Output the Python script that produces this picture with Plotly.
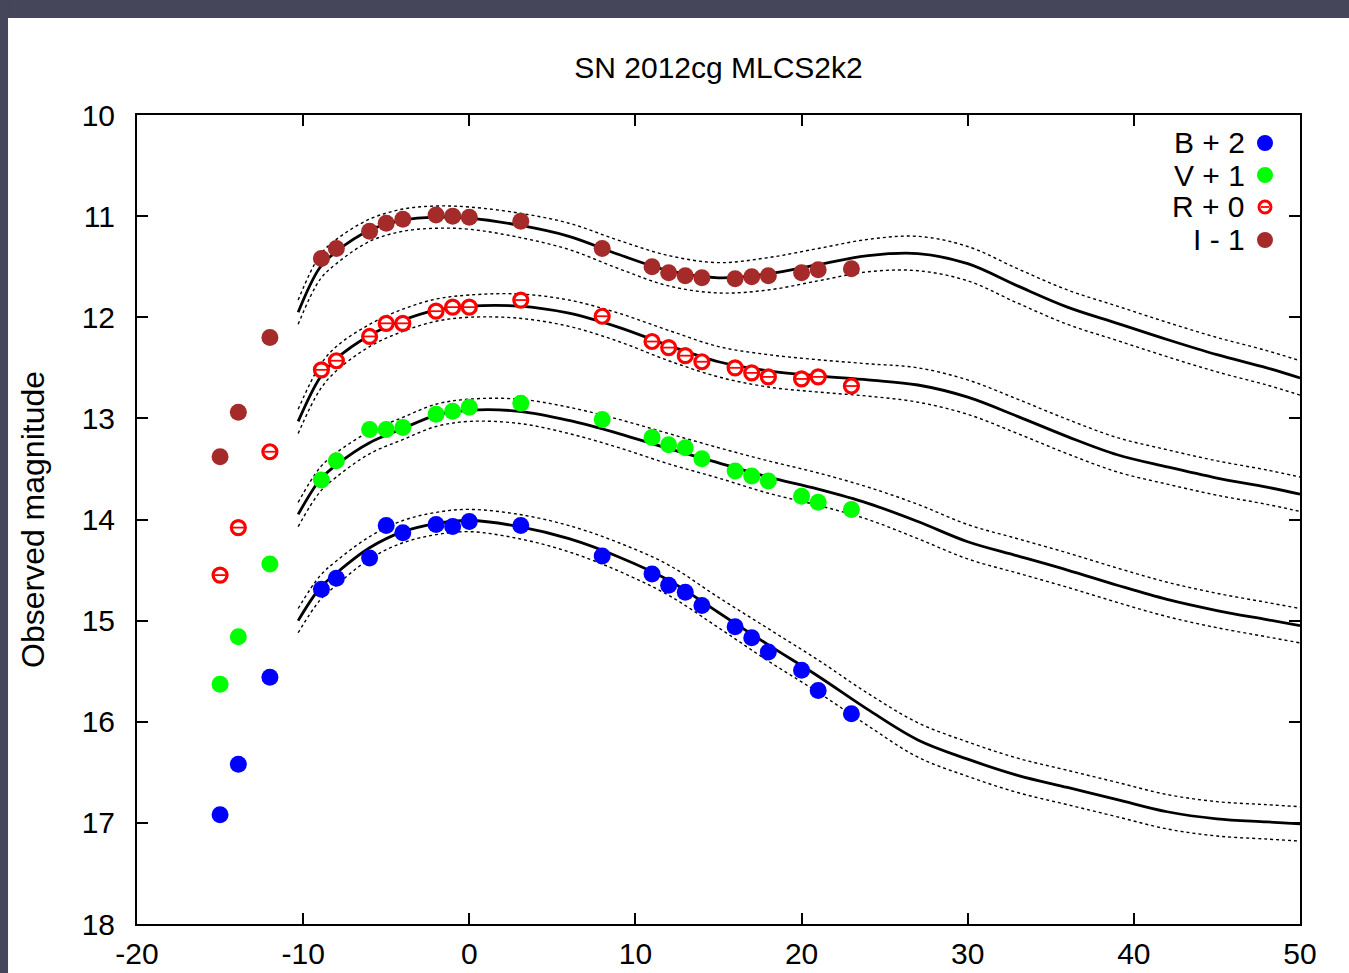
import plotly.graph_objects as go

# ---------------- data ----------------
phase = [-15, -13.9, -12, -8.9, -8, -6, -5, -4, -2, -1, 0, 3.1, 8, 11, 12, 13, 14, 16, 17, 18, 20, 21, 23]

mag_B = [16.92, 16.42, 15.56, 14.69, 14.58, 14.38, 14.06, 14.13, 14.05, 14.07, 14.02, 14.06, 14.36,
         14.54, 14.65, 14.72, 14.85, 15.06, 15.17, 15.31, 15.49, 15.69, 15.92]
mag_V = [15.63, 15.16, 14.44, 13.61, 13.42, 13.11, 13.11, 13.09, 12.96, 12.93, 12.89, 12.85, 13.01,
         13.19, 13.26, 13.29, 13.40, 13.52, 13.57, 13.62, 13.77, 13.83, 13.90]
mag_R = [14.55, 14.08, 13.33, 12.52, 12.43, 12.19, 12.06, 12.06, 11.94, 11.90, 11.90, 11.83, 11.99,
         12.24, 12.30, 12.38, 12.44, 12.50, 12.55, 12.59, 12.61, 12.59, 12.68]
mag_I = [13.38, 12.94, 12.20, 11.42, 11.32, 11.15, 11.07, 11.03, 10.99, 11.00, 11.01, 11.05, 11.32,
         11.50, 11.56, 11.59, 11.61, 11.62, 11.60, 11.59, 11.56, 11.53, 11.52]

model_phase = [-10.3, -9, -8, -6, -4, -2, 0, 3, 6, 9, 12, 15, 18, 21, 24, 27, 30, 33, 36, 39, 42, 45, 48, 50]
model_B = [15.00, 14.68, 14.53, 14.28, 14.12, 14.04, 14.01, 14.07, 14.19, 14.37, 14.60, 14.92, 15.24,
           15.55, 15.88, 16.18, 16.37, 16.53, 16.65, 16.77, 16.89, 16.96, 16.99, 17.01]
model_V = [13.95, 13.61, 13.46, 13.24, 13.10, 12.97, 12.92, 12.93, 13.02, 13.15, 13.30, 13.44, 13.58,
           13.70, 13.84, 14.02, 14.22, 14.36, 14.50, 14.65, 14.79, 14.90, 14.99, 15.05]
model_R = [13.03, 12.60, 12.41, 12.18, 12.03, 11.93, 11.89, 11.89, 11.96, 12.10, 12.28, 12.44, 12.53,
           12.58, 12.62, 12.67, 12.79, 12.98, 13.18, 13.36, 13.48, 13.59, 13.68, 13.75]
model_I = [11.95, 11.51, 11.35, 11.14, 11.04, 11.01, 11.02, 11.09, 11.20, 11.38, 11.54, 11.61, 11.57,
           11.48, 11.39, 11.37, 11.47, 11.69, 11.90, 12.06, 12.22, 12.37, 12.50, 12.60]
model_sigma = [0.12, 0.12, 0.12, 0.11, 0.11, 0.11, 0.11, 0.12, 0.13, 0.14, 0.15, 0.15, 0.16,
               0.16, 0.16, 0.17, 0.17, 0.17, 0.17, 0.17, 0.17, 0.17, 0.17, 0.17]

band_labels = ["B + 2", "V + 1", "R + 0", "I - 1"]
band_colors = ["#0000ff", "#00ff00", "#ff0000", "#a52a2a"]

title_text = "SN 2012cg MLCS2k2"
y_title = "Observed magnitude"
x_ticks = [-20, -10, 0, 10, 20, 30, 40, 50]
x_ticktext = ["-20", "-10", "0", "10", "20", "30", "40", "50"]
y_ticks = [10, 11, 12, 13, 14, 15, 16, 17, 18]

FONT = "Liberation Sans, Arial, Helvetica, sans-serif"

fig = go.Figure()

# ---------------- model curves ----------------
for model in [model_B, model_V, model_R, model_I]:
    upper = [m - s for m, s in zip(model, model_sigma)]
    lower = [m + s for m, s in zip(model, model_sigma)]
    for env in (upper, lower):
        fig.add_trace(go.Scatter(x=model_phase, y=env, mode="lines",
                                 line=dict(color="black", width=1.4, dash="dot", shape="spline", smoothing=1.0),
                                 showlegend=False, hoverinfo="skip"))
    fig.add_trace(go.Scatter(x=model_phase, y=model, mode="lines",
                             line=dict(color="black", width=2.8, shape="spline", smoothing=1.0),
                             showlegend=False, hoverinfo="skip"))

# ---------------- data points ----------------
for mags, col, lab in zip([mag_B, mag_V, mag_R, mag_I], band_colors, band_labels):
    if lab.startswith("R"):
        fig.add_trace(go.Scatter(x=phase, y=mags, mode="markers", name=lab,
                                 marker=dict(symbol="circle", size=14, color="white",
                                             line=dict(color=col, width=3.2)),
                                 showlegend=False))
        fig.add_trace(go.Scatter(x=phase, y=mags, mode="markers", name=lab,
                                 marker=dict(symbol="line-ew", size=8,
                                             line=dict(color=col, width=1.8)),
                                 showlegend=False, hoverinfo="skip"))
    else:
        fig.add_trace(go.Scatter(x=phase, y=mags, mode="markers", name=lab,
                                 marker=dict(symbol="circle", size=17, color=col,
                                             line=dict(width=0)),
                                 showlegend=False))

# ---------------- custom legend (text left of symbol) ----------------
shapes = []
annotations = []
leg_rows = [0.9654, 0.9258, 0.8863, 0.8455]
for lab, col, yy in zip(band_labels, band_colors, leg_rows):
    annotations.append(dict(text=lab, x=0.9544, y=yy, xref="paper", yref="paper",
                            xanchor="right", yanchor="middle", showarrow=False,
                            font=dict(size=30, family=FONT, color="black")))
    if lab.startswith("R"):
        shapes.append(dict(type="circle", xref="paper", yref="paper", xsizemode="pixel", ysizemode="pixel",
                           xanchor=0.9699, yanchor=yy, x0=-6, x1=6, y0=-6, y1=6,
                           fillcolor="white", line=dict(color=col, width=3)))
        shapes.append(dict(type="line", xref="paper", yref="paper", xsizemode="pixel", ysizemode="pixel",
                           xanchor=0.9699, yanchor=yy, x0=-4, x1=4, y0=0, y1=0,
                           line=dict(color=col, width=1.8)))
    else:
        shapes.append(dict(type="circle", xref="paper", yref="paper", xsizemode="pixel", ysizemode="pixel",
                           xanchor=0.9699, yanchor=yy, x0=-8, x1=8, y0=-8, y1=8,
                           fillcolor=col, line=dict(color=col, width=0)))

# dark frame bands (top and left) of the screenshot
BAND = "#46465a"
shapes.append(dict(type="rect", xref="paper", yref="paper", x0=-0.2, x1=1.2, y0=1.1199, y1=1.2,
                   fillcolor=BAND, line=dict(width=0), layer="below"))
shapes.append(dict(type="rect", xref="paper", yref="paper", x0=-0.2, x1=-0.1109, y0=-0.2, y1=1.2,
                   fillcolor=BAND, line=dict(width=0), layer="below"))

# y-axis title
annotations.append(dict(text=y_title, x=-0.0894, y=0.4994, xref="paper", yref="paper",
                        textangle=-90, showarrow=False, xanchor="center", yanchor="middle",
                        font=dict(size=32, family=FONT, color="black")))

fig.update_layout(
    width=1349, height=973,
    margin=dict(l=137, r=49, t=115, b=49, autoexpand=False),
    paper_bgcolor="white", plot_bgcolor="white",
    title=dict(text=title_text, x=0.5, xref="paper", y=1 - 67 / 973, yref="container",
               xanchor="center", yanchor="middle",
               font=dict(size=30, family=FONT, color="black")),
    shapes=shapes, annotations=annotations,
    showlegend=False,
)
fig.update_xaxes(range=[-20, 50], tickvals=x_ticks, ticktext=x_ticktext, ticks="inside", ticklen=11,
                 tickwidth=2, tickcolor="black", showline=True, linecolor="black", linewidth=2,
                 mirror="ticks", showgrid=False, zeroline=False, ticklabelstandoff=2, automargin=False,
                 tickfont=dict(size=30, family=FONT, color="black"))
fig.update_yaxes(range=[18, 10], tickvals=y_ticks, ticks="inside", ticklen=11, tickwidth=2,
                 tickcolor="black", showline=True, linecolor="black", linewidth=2, mirror="ticks",
                 showgrid=False, zeroline=False, ticklabelstandoff=14, automargin=False,
                 tickfont=dict(size=30, family=FONT, color="black"))

fig.write_html("out.html")
